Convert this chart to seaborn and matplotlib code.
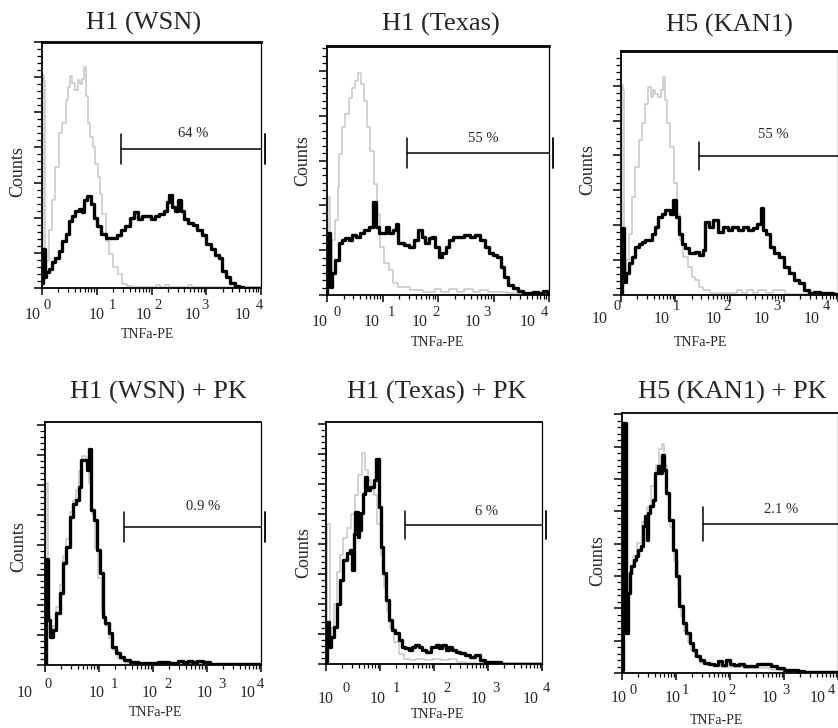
import numpy as np
import matplotlib
matplotlib.use("Agg")
import matplotlib.pyplot as plt
import matplotlib.transforms as mtransforms
import seaborn as sns

# ── Data: histogram outlines ─────────────────────────────────────────────────
# x = log10(TNFa-PE), y = counts as % of the panel height
wsn_gray_x = [0.00, 0.02, 0.04, 0.06, 0.09, 0.15, 0.21, 0.28, 0.34, 0.40, 0.46, 0.49, 0.53, 0.58, 0.63,
              0.67, 0.71, 0.75, 0.78, 0.81, 0.86, 0.90, 0.95, 0.99, 1.04, 1.07, 1.13, 1.19, 1.25, 1.34,
              1.44, 1.50, 1.59, 1.68, 2.05, 2.12, 2.20, 2.28, 2.35, 2.62, 2.70, 2.78, 3.20, 4.00]
wsn_gray_y = [1.0, 86.6, 84.0, 9.9, 11.0, 23.4, 35.6, 49.3, 62.9, 66.9, 76.4, 81.9, 86.0, 83.3, 80.6,
              84.6, 82.9, 85.0, 90.0, 77.9, 66.9, 61.4, 57.4, 50.6, 45.1, 38.3, 30.1, 19.3, 13.9, 8.4,
              5.7, 1.6, 1.0, 0.4, 0.4, 1.4, 0.4, 1.4, 0.4, 0.4, 1.4, 0.4, 0.3, 0.3]
wsn_black_x = [0.00, 0.02, 0.04, 0.06, 0.09, 0.15, 0.21, 0.27, 0.34, 0.40, 0.46, 0.52, 0.58, 0.64, 0.70,
               0.75, 0.79, 0.87, 0.92, 0.98, 1.04, 1.13, 1.22, 1.34, 1.40, 1.47, 1.55, 1.65, 1.72, 1.79,
               1.86, 1.95, 2.03, 2.10, 2.18, 2.26, 2.30, 2.35, 2.40, 2.46, 2.52, 2.57, 2.63, 2.70, 2.80,
               2.88, 2.96, 3.04, 3.12, 3.20, 3.27, 3.32, 3.40, 3.48, 3.56, 3.63, 3.70, 4.00]
wsn_black_y = [2.0, 15.9, 15.9, 4.3, 6.4, 7.9, 10.7, 12.1, 15.0, 19.3, 22.1, 27.1, 29.3, 31.4, 32.1,
               30.7, 35.7, 37.6, 34.3, 28.6, 25.0, 22.1, 20.3, 20.3, 21.4, 23.6, 25.0, 28.6, 30.7, 27.9,
               29.3, 29.3, 27.9, 29.3, 30.0, 31.4, 35.0, 37.9, 32.9, 31.4, 35.7, 31.4, 27.9, 26.4, 25.7,
               23.6, 21.4, 17.9, 15.7, 13.6, 12.1, 7.1, 4.3, 2.1, 1.0, 0.3, 0.2, 0.2]

texas_gray_x = [0.00, 0.03, 0.05, 0.07, 0.12, 0.17, 0.21, 0.24, 0.30, 0.36, 0.42, 0.48, 0.54, 0.59, 0.63,
                0.69, 0.75, 0.81, 0.87, 0.93, 0.99, 1.08, 1.14, 1.23, 1.32, 1.44, 1.56, 1.90, 2.00, 2.10,
                2.30, 2.40, 2.55, 2.70, 2.80, 3.00, 3.50, 4.00]
texas_gray_y = [1.0, 39.3, 39.3, 4.7, 22.0, 30.0, 43.3, 56.7, 67.3, 72.7, 79.3, 83.3, 86.0, 89.3, 84.7,
                78.0, 67.3, 58.0, 44.7, 32.7, 19.3, 12.7, 10.0, 4.7, 3.3, 3.1, 2.0, 1.3, 2.3, 1.3,
                2.3, 1.3, 2.3, 1.3, 2.0, 1.3, 1.0, 0.8]
texas_black_x = [0.00, 0.01, 0.04, 0.07, 0.12, 0.18, 0.24, 0.30, 0.36, 0.42, 0.48, 0.55, 0.63, 0.72, 0.81,
                 0.86, 0.90, 0.96, 1.03, 1.09, 1.15, 1.23, 1.26, 1.29, 1.35, 1.44, 1.53, 1.61, 1.68, 1.74,
                 1.80, 1.86, 1.92, 1.98, 2.05, 2.11, 2.17, 2.23, 2.32, 2.41, 2.53, 2.62, 2.71, 2.80, 2.89,
                 2.95, 3.04, 3.10, 3.16, 3.22, 3.31, 3.40, 3.49, 3.58, 3.67, 3.76, 3.85, 3.94, 4.00]
texas_black_y = [1.0, 24.7, 24.7, 3.3, 8.7, 14.0, 20.7, 22.0, 22.7, 22.0, 24.0, 23.3, 24.7, 26.0, 27.3,
                 37.3, 27.3, 24.7, 24.7, 27.3, 24.7, 26.0, 28.7, 20.7, 20.7, 20.0, 19.3, 22.0, 26.0, 23.3,
                 20.7, 22.7, 23.3, 19.3, 15.3, 16.7, 19.3, 22.0, 23.3, 23.3, 24.0, 23.3, 24.0, 22.0, 19.3,
                 16.7, 16.0, 15.3, 11.3, 7.3, 4.0, 2.7, 1.7, 0.7, 0.7, 1.2, 0.7, 1.7, 0.7]

kan1_gray_x = [0.00, 0.02, 0.04, 0.06, 0.11, 0.17, 0.23, 0.29, 0.36, 0.42, 0.48, 0.53, 0.57, 0.61, 0.66,
               0.71, 0.75, 0.79, 0.83, 0.88, 0.94, 1.00, 1.06, 1.12, 1.18, 1.28, 1.34, 1.40, 1.46, 1.58,
               1.71, 2.10, 2.16, 2.30, 2.36, 2.50, 2.56, 2.78, 2.84, 3.20, 4.00]
kan1_gray_y = [1.0, 86.0, 84.0, 6.0, 14.3, 25.2, 40.2, 52.5, 63.4, 70.3, 78.4, 85.3, 81.2, 83.9, 82.5,
               81.2, 83.9, 89.4, 79.8, 70.3, 60.7, 45.7, 33.4, 22.5, 15.7, 11.6, 7.5, 6.1, 3.4, 2.0,
               0.7, 0.7, 2.0, 0.7, 2.0, 0.7, 2.0, 0.7, 2.0, 0.5, 0.5]
kan1_black_x = [0.00, 0.02, 0.04, 0.06, 0.11, 0.17, 0.23, 0.29, 0.36, 0.42, 0.48, 0.54, 0.60, 0.66, 0.72,
                0.79, 0.85, 0.94, 0.99, 1.03, 1.09, 1.15, 1.21, 1.31, 1.40, 1.49, 1.53, 1.58, 1.67, 1.74,
                1.83, 1.92, 2.01, 2.10, 2.20, 2.29, 2.38, 2.47, 2.55, 2.60, 2.64, 2.72, 2.78, 2.87, 2.96,
                3.06, 3.15, 3.24, 3.33, 3.42, 3.52, 3.61, 3.73, 3.85, 3.98]
kan1_black_y = [1.0, 27.3, 27.3, 5.5, 8.9, 13.0, 15.7, 19.8, 21.1, 21.8, 22.5, 22.5, 25.2, 28.0, 32.1,
                33.4, 34.8, 33.4, 38.9, 32.1, 25.2, 21.1, 19.1, 17.1, 17.7, 16.4, 18.4, 30.0, 28.0, 30.7,
                25.9, 28.0, 26.6, 28.0, 26.6, 28.0, 26.6, 27.3, 29.3, 35.5, 26.6, 25.2, 19.8, 17.1, 15.7,
                11.6, 8.9, 6.1, 4.8, 2.0, 1.0, 1.4, 0.7, 1.0, 0.4]

wsn_pk_gray_x = [0.00, 0.02, 0.04, 0.07, 0.11, 0.17, 0.24, 0.30, 0.36, 0.42, 0.49, 0.55, 0.61, 0.66, 0.72,
                 0.78, 0.84, 0.90, 0.96, 1.02, 1.08, 1.15, 1.22, 1.30, 1.40, 1.55, 2.00, 2.50, 3.00, 3.30, 4.00]
wsn_pk_gray_y = [1.0, 75.0, 75.0, 20.0, 13.0, 16.0, 24.0, 33.0, 45.0, 52.0, 63.0, 68.0, 72.0, 80.0, 86.0,
                 84.0, 75.0, 62.0, 48.0, 36.0, 22.0, 16.0, 11.0, 6.0, 2.5, 1.0, 0.5, 0.8, 0.5, 0.3, 0.3]
wsn_pk_black_x = [0.00, 0.02, 0.04, 0.07, 0.11, 0.17, 0.24, 0.30, 0.36, 0.42, 0.49, 0.55, 0.61, 0.65, 0.70,
                  0.75, 0.80, 0.83, 0.88, 0.94, 1.00, 1.05, 1.09, 1.15, 1.21, 1.28, 1.34, 1.42, 1.51, 1.64,
                  1.82, 2.00, 2.20, 2.40, 2.51, 2.60, 2.70, 2.76, 2.86, 3.00, 3.10, 4.00]
wsn_pk_black_y = [1.0, 43.8, 43.8, 18.5, 11.6, 14.4, 21.2, 29.5, 41.8, 48.6, 61.0, 66.4, 67.8, 73.3, 84.2,
                  84.2, 80.1, 89.0, 63.7, 59.6, 47.3, 37.7, 19.9, 17.1, 13.0, 7.5, 4.8, 3.4, 2.1, 1.4,
                  1.0, 1.0, 1.4, 1.0, 1.6, 1.4, 1.8, 1.4, 1.8, 1.4, 0.3, 0.3]

texas_pk_gray_x = [0.00, 0.03, 0.05, 0.08, 0.12, 0.17, 0.23, 0.29, 0.35, 0.42, 0.50, 0.57, 0.63, 0.70, 0.74,
                   0.80, 0.86, 0.92, 0.98, 1.04, 1.10, 1.16, 1.22, 1.30, 1.40, 1.50, 1.60, 1.75, 1.90, 2.05,
                   2.20, 2.35, 2.50, 2.70, 3.00, 4.00]
texas_pk_gray_y = [1.0, 58.0, 58.0, 10.0, 15.0, 25.0, 38.0, 45.0, 52.0, 56.0, 62.0, 70.0, 78.0, 87.0, 80.0,
                   76.0, 74.0, 70.0, 58.0, 45.0, 32.0, 22.0, 15.0, 9.0, 4.0, 2.0, 1.5, 2.2, 1.5, 2.2,
                   1.5, 2.2, 1.0, 0.5, 0.3, 0.3]
texas_pk_black_x = [0.00, 0.02, 0.04, 0.07, 0.12, 0.17, 0.23, 0.29, 0.35, 0.42, 0.46, 0.50, 0.52, 0.57, 0.60,
                    0.63, 0.66, 0.71, 0.74, 0.79, 0.85, 0.91, 0.96, 0.99, 1.04, 1.08, 1.13, 1.19, 1.25, 1.31,
                    1.38, 1.44, 1.50, 1.56, 1.62, 1.69, 1.76, 1.81, 1.90, 2.00, 2.06, 2.12, 2.18, 2.25, 2.31,
                    2.37, 2.46, 2.52, 2.62, 2.71, 2.80, 2.90, 2.99, 3.11, 3.21, 3.27, 4.00]
texas_pk_black_y = [1.0, 17.5, 17.5, 7.2, 11.3, 15.4, 25.0, 34.7, 42.9, 45.7, 47.0, 38.8, 53.9, 62.9, 52.5,
                    55.3, 62.2, 70.4, 77.3, 71.8, 73.2, 75.9, 84.9, 64.9, 48.4, 37.4, 26.4, 18.2, 14.0, 12.7,
                    9.9, 7.2, 6.5, 5.8, 7.2, 7.8, 7.2, 5.8, 5.1, 7.2, 7.8, 6.5, 7.8, 5.8, 7.2,
                    5.8, 5.1, 4.4, 3.7, 3.0, 3.7, 1.7, 1.0, 1.0, 1.0, 0.2, 0.2]

kan1_pk_gray_x = [0.00, 0.02, 0.05, 0.09, 0.16, 0.24, 0.33, 0.41, 0.50, 0.59, 0.66, 0.72, 0.76, 0.80, 0.86,
                  0.93, 1.00, 1.06, 1.12, 1.19, 1.25, 1.32, 1.40, 1.50, 1.65, 2.00, 2.50, 3.00, 3.50, 4.00]
kan1_pk_gray_y = [1.0, 96.0, 96.0, 20.0, 38.0, 45.0, 50.0, 58.0, 64.0, 72.0, 80.0, 86.0, 88.0, 80.0, 68.0,
                  56.0, 43.0, 32.0, 22.0, 16.0, 12.0, 9.0, 6.0, 4.0, 3.0, 2.5, 2.0, 1.2, 0.5, 0.3]
kan1_pk_black_x = [0.00, 0.02, 0.05, 0.09, 0.13, 0.16, 0.19, 0.24, 0.28, 0.33, 0.38, 0.41, 0.44, 0.47, 0.50,
                   0.55, 0.59, 0.64, 0.68, 0.72, 0.76, 0.80, 0.84, 0.91, 0.97, 1.03, 1.09, 1.16, 1.22, 1.28,
                   1.34, 1.41, 1.47, 1.56, 1.66, 1.75, 1.81, 1.88, 1.97, 2.03, 2.13, 2.22, 2.31, 2.44, 2.56,
                   2.69, 2.81, 2.94, 3.06, 3.19, 3.31, 3.44, 3.56, 3.75, 4.00]
kan1_pk_black_y = [1.0, 96.2, 96.2, 15.4, 30.8, 38.5, 41.0, 43.6, 44.9, 47.4, 48.7, 56.4, 60.3, 51.3, 61.5,
                   64.1, 66.7, 76.9, 79.5, 76.9, 84.0, 78.2, 69.2, 59.0, 47.4, 37.2, 25.6, 19.2, 15.4, 11.5,
                   9.0, 6.4, 5.1, 3.8, 3.6, 3.2, 4.5, 3.2, 5.1, 3.6, 3.2, 3.6, 2.8, 2.6, 3.6,
                   3.6, 2.8, 1.9, 1.3, 1.0, 0.6, 0.4, 0.3, 0.3, 0.2]

titles = ["H1 (WSN)", "H1 (Texas)", "H5 (KAN1)",
          "H1 (WSN) + PK", "H1 (Texas) + PK", "H5 (KAN1) + PK"]
gate_labels = ["64 %", "55 %", "55 %", "0.9 %", "6 %", "2.1 %"]
decades = [0, 1, 2, 3, 4]

# ── Style ────────────────────────────────────────────────────────────────────
sns.set_theme(style="ticks")
plt.rcParams["font.family"] = ["Liberation Serif", "DejaVu Serif"]

GRAY = "#c6c6c6"
W, H = 838, 728

# layout in pixels: axes box (l, t, r, b), title/ylabel/xlabel centres,
# tick-label offsets, y tick step, gate geometry
PANELS = [
    dict(gx=wsn_gray_x, gy=wsn_gray_y, bx=wsn_black_x, by=wsn_black_y,
         box=(42, 42, 261, 288), title=(144, 23), ylab=(18, 172), xlab=(147, 335),
         bdx=[-9, 0, -8, -14, -18], edx=[1, 12, 3, -5, -5], ldy=(27, 18),
         ystep=100 / 7, top_lw=2.0, gate=(1.45, 56.7, 6.1), glab=(2.77, 62.9)),
    dict(gx=texas_gray_x, gy=texas_gray_y, bx=texas_black_x, by=texas_black_y,
         box=(327, 46, 549, 295), title=(441, 24), ylab=(303, 161), xlab=(437, 342),
         bdx=[-7, -11, -18, -21, -21], edx=[6, 5, -6, -10, -8], ldy=(27, 18),
         ystep=18.0, top_lw=2.0, gate=(1.45, 57.0, 6.0), glab=(2.81, 63.0)),
    dict(gx=kan1_gray_x, gy=kan1_gray_y, bx=kan1_black_x, by=kan1_black_y,
         box=(621, 51, 838, 295), title=(729, 25), ylab=(588, 170), xlab=(700, 343),
         bdx=[-21, -14, -16, -22, -26], edx=[-8, -3, -6, -11, -15], ldy=(24, 11),
         ystep=14.3, top_lw=2.0, gate=(1.44, 57.0, 5.8), glab=(2.80, 65.6)),
    dict(gx=wsn_pk_gray_x, gy=wsn_pk_gray_y, bx=wsn_pk_black_x, by=wsn_pk_black_y,
         box=(45, 422, 261, 665), title=(158, 392), ylab=(19, 547), xlab=(155, 712),
         bdx=[-20, -2, -3, -2, -13], edx=[-1, 12, 11, 11, -4], ldy=(28, 20),
         ystep=12.33, top_lw=1.3, gate=(1.47, 56.8, 6.1), glab=(2.92, 65.4)),
    dict(gx=texas_pk_gray_x, gy=texas_pk_gray_y, bx=texas_pk_black_x, by=texas_pk_black_y,
         box=(326, 422, 542, 664), title=(437, 392), ylab=(304, 553), xlab=(437, 714),
         bdx=[0, -2, -5, -9, -11], edx=[16, 13, 9, 4, 1], ldy=(35, 25),
         ystep=12.38, top_lw=1.3, gate=(1.46, 57.4, 5.8), glab=(2.98, 63.2)),
    dict(gx=kan1_pk_gray_x, gy=kan1_pk_gray_y, bx=kan1_pk_black_x, by=kan1_pk_black_y,
         box=(622, 413, 838, 673), title=(732, 392), ylab=(598, 561), xlab=(716, 721),
         bdx=[-3, -3, -11, -14, -20], edx=[7, 6, -2, -2, -10], ldy=(25, 17),
         ystep=12.44, top_lw=1.3, gate=(1.50, 57.3, 6.5), glab=(2.94, 62.7)),
]


def px_rect(l, t, r, b):
    return [l / W, 1 - b / H, (r - l) / W, (b - t) / H]


def fig_xy(x, y):
    return x / W, 1 - y / H


fig = plt.figure(figsize=(W / 100, H / 100), dpi=100)

minor_x = [d + np.log10(k) for d in decades[:-1] for k in range(2, 10)]

for i, p in enumerate(PANELS):
    ax = fig.add_axes(px_rect(*p["box"]))

    sns.lineplot(x=p["gx"], y=p["gy"], ax=ax, color=GRAY, lw=1.1,
                 drawstyle="steps-mid", estimator=None, zorder=2)
    sns.lineplot(x=p["bx"], y=p["by"], ax=ax, color="black", lw=2.4,
                 drawstyle="steps-mid", estimator=None, zorder=3)

    ax.set_xlim(0, 4)
    ax.set_ylim(0, 100)
    ax.set_xlabel("")
    ax.set_ylabel("")

    # axes frame
    for side in ["left", "bottom", "top", "right"]:
        ax.spines[side].set_visible(True)
        ax.spines[side].set_color("black")
    ax.spines["left"].set_linewidth(1.3)
    ax.spines["bottom"].set_linewidth(1.3)
    ax.spines["top"].set_linewidth(p["top_lw"])
    ax.spines["right"].set_linewidth(0.9)

    # log-style x ticks, dense y ticks
    ax.set_xticks(decades)
    ax.set_xticks(minor_x, minor=True)
    step = p["ystep"]
    ax.set_yticks(np.arange(0, 100.01, step))
    ax.set_yticks(np.arange(0, 100.01, step / 5 if i != 1 else step / 6), minor=True)
    ax.tick_params(axis="both", which="both", direction="out", color="black",
                   labelbottom=False, labelleft=False, top=False, right=False)
    ax.tick_params(axis="x", which="major", length=5, width=1.1)
    ax.tick_params(axis="x", which="minor", length=3, width=0.9)
    ax.tick_params(axis="y", which="major", length=6, width=1.1)
    ax.tick_params(axis="y", which="minor", length=3.5, width=0.9)

    # 10^n tick labels, placed by hand like the original
    xtr = ax.get_xaxis_transform()
    bdy, edy = p["ldy"]
    for k, d in enumerate(decades):
        t1 = mtransforms.offset_copy(xtr, fig=fig, x=p["bdx"][k], y=-bdy, units="dots")
        ax.text(d, 0, "10", transform=t1, ha="center", va="center",
                fontsize=11.5, clip_on=False)
        t2 = mtransforms.offset_copy(xtr, fig=fig, x=p["edx"][k], y=-edy, units="dots")
        ax.text(d, 0, str(d), transform=t2, ha="left", va="center",
                fontsize=10.5, clip_on=False)

    # positive gate marker
    gx0, gy0, gh = p["gate"]
    ax.plot([gx0, 4.0], [gy0, gy0], color="black", lw=1.1, clip_on=False, zorder=4)
    ax.plot([gx0, gx0], [gy0 - gh, gy0 + gh], color="black", lw=1.1, zorder=4)
    ax.plot([4.065, 4.065], [gy0 - gh, gy0 + gh], color="black", lw=1.3,
            clip_on=False, zorder=4)
    ax.text(p["glab"][0], p["glab"][1], gate_labels[i], ha="center", va="center",
            fontsize=10.5)

    fig.text(*fig_xy(*p["title"]), titles[i], ha="center", va="center", fontsize=19)
    fig.text(*fig_xy(*p["ylab"]), "Counts", ha="center", va="center",
             rotation=90, fontsize=13)
    fig.text(*fig_xy(*p["xlab"]), "TNFa-PE", ha="center", va="center", fontsize=10)

fig.savefig("out.png", dpi=100)
